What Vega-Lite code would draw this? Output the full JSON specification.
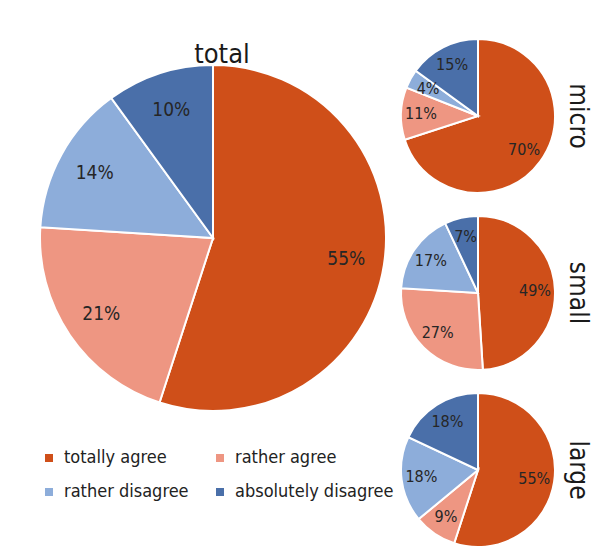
{
  "$schema": "https://vega.github.io/schema/vega-lite/v6.json",
  "background": "white",
  "padding": {"left": 36, "top": 35, "right": 10, "bottom": 0},
  "bounds": "flush",
  "datasets": {
    "shares": [
      {"group": "total", "category": "totally agree", "share": 55},
      {"group": "total", "category": "rather agree", "share": 21},
      {"group": "total", "category": "rather disagree", "share": 14},
      {"group": "total", "category": "absolutely disagree", "share": 10},
      {"group": "micro", "category": "totally agree", "share": 70},
      {"group": "micro", "category": "rather agree", "share": 11},
      {"group": "micro", "category": "rather disagree", "share": 4},
      {"group": "micro", "category": "absolutely disagree", "share": 15},
      {"group": "small", "category": "totally agree", "share": 49},
      {"group": "small", "category": "rather agree", "share": 27},
      {"group": "small", "category": "rather disagree", "share": 17},
      {"group": "small", "category": "absolutely disagree", "share": 7},
      {"group": "large", "category": "totally agree", "share": 55},
      {"group": "large", "category": "rather agree", "share": 9},
      {"group": "large", "category": "rather disagree", "share": 18},
      {"group": "large", "category": "absolutely disagree", "share": 18}
    ]
  },
  "data": {"name": "shares"},
  "transform": [
    {"calculate": "indexof(['totally agree','rather agree','rather disagree','absolutely disagree'], datum.category)", "as": "rank"},
    {"calculate": "datum.share + '%'", "as": "label"}
  ],
  "spacing": 15,
  "hconcat": [
    {
      "transform": [{"filter": "datum.group === 'total'"}],
      "title": {"text": "total", "fontSize": 27, "font": "DejaVu Sans Condensed, sans-serif", "fontWeight": "normal", "color": "#1a1a1a", "baseline": "alphabetic", "offset": -51, "dx": 9},
      "width": 346,
      "height": 398,
      "encoding": {
        "theta": {"field": "share", "type": "quantitative", "stack": true},
        "order": {"field": "rank", "type": "quantitative"}
      },
      "layer": [
        {
          "mark": {"type": "arc", "outerRadius": 173, "stroke": "white", "strokeWidth": 2},
          "encoding": {
            "color": {
              "field": "category",
              "type": "nominal",
              "sort": ["totally agree", "rather agree", "rather disagree", "absolutely disagree"],
              "scale": {"domain": ["totally agree", "rather agree", "rather disagree", "absolutely disagree"], "range": ["#CF4F19", "#EE9682", "#8DADDA", "#4A6FA9"]},
              "legend": {
                "orient": "bottom",
                "title": null,
                "columns": 2,
                "symbolType": "square",
                "symbolSize": 64,
                "symbolStrokeWidth": 0,
                "labelFontSize": 18,
                "labelFont": "DejaVu Sans Condensed, sans-serif",
                "labelColor": "#222222",
                "labelLimit": 260,
                "labelOffset": 6,
                "rowPadding": 16,
                "columnPadding": 22,
                "offset": 12
              }
            }
          }
        },
        {
          "mark": {"type": "text", "radius": 135, "fontSize": 19, "font": "DejaVu Sans Condensed, sans-serif", "fill": "#262626"},
          "encoding": {
            "detail": {"field": "category"},
            "text": {"field": "label"}
          }
        }
      ]
    },
    {
      "transform": [{"filter": "datum.group !== 'total'"}],
      "facet": {
        "row": {
          "field": "group",
          "type": "nominal",
          "sort": ["micro", "small", "large"],
          "header": {
            "title": null,
            "labelOrient": "right",
            "labelAngle": 90,
            "labelFontSize": 26,
            "labelFont": "DejaVu Sans Condensed, sans-serif",
            "labelColor": "#1a1a1a",
            "labelPadding": 6
          }
        }
      },
      "spacing": 15,
      "spec": {
        "width": 154,
        "height": 154,
        "encoding": {
          "theta": {"field": "share", "type": "quantitative", "stack": true},
          "order": {"field": "rank", "type": "quantitative"}
        },
        "layer": [
          {
            "mark": {"type": "arc", "outerRadius": 77, "stroke": "white", "strokeWidth": 2},
            "encoding": {
              "color": {
                "field": "category",
                "type": "nominal",
                "sort": ["totally agree", "rather agree", "rather disagree", "absolutely disagree"],
                "scale": {"domain": ["totally agree", "rather agree", "rather disagree", "absolutely disagree"], "range": ["#CF4F19", "#EE9682", "#8DADDA", "#4A6FA9"]},
                "legend": null
              }
            }
          },
          {
            "mark": {"type": "text", "radius": 57, "fontSize": 16, "font": "DejaVu Sans Condensed, sans-serif", "fill": "#262626"},
            "encoding": {
              "detail": {"field": "category"},
              "text": {"field": "label"}
            }
          }
        ]
      }
    }
  ],
  "resolve": {"legend": {"color": "independent"}},
  "config": {"view": {"stroke": null}}
}
